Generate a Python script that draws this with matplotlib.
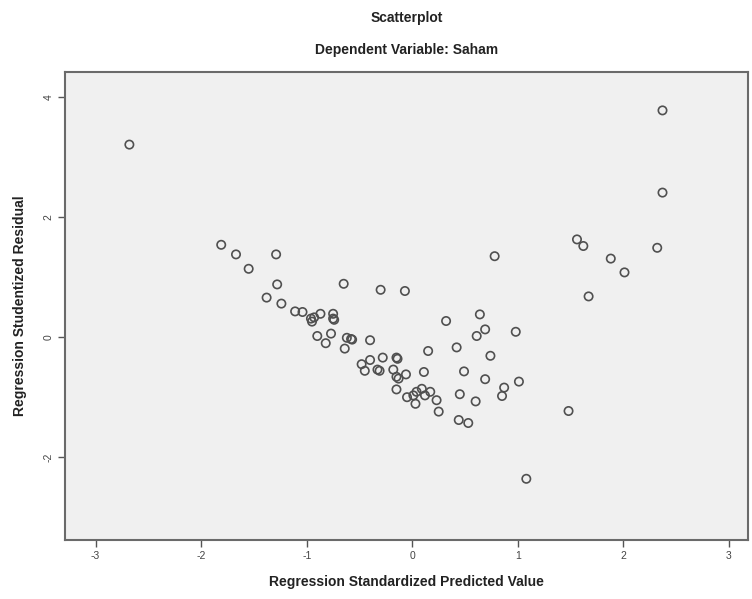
import matplotlib.pyplot as plt

plt.rcParams['font.family'] = ['Liberation Sans', 'DejaVu Sans']

# standardized predicted values (x) and studentized residuals (y)
pred = [-2.68, -1.81, -1.67, -1.29, -1.55, -1.28, -1.38, -1.24, -1.11, -1.04,
        -0.96, -0.93, -0.95, -0.87, -0.75, -0.75, -0.74, -0.65, -0.30, -0.07,
        -0.90, -0.77, -0.82, -0.62, -0.57, -0.58, -0.64, -0.40,
        -0.48, -0.40, -0.45, -0.33, -0.31, -0.28, -0.15, -0.14, -0.18, -0.15,
        -0.13, -0.06, -0.15, 0.15, 0.11, -0.05, 0.01, 0.04, 0.09, 0.12, 0.17,
        0.03, 0.23, 0.25, 0.32, 0.42, 0.49, 0.45, 0.44, 0.53, 0.60, 0.64,
        0.69, 0.61, 0.74, 0.69, 0.98, 0.87, 0.85, 1.01, 1.48, 1.08,
        2.37, 2.37, 1.56, 1.62, 2.32, 1.88, 2.01, 1.67, 0.78]
resid = [3.21, 1.54, 1.38, 1.38, 1.14, 0.88, 0.66, 0.56, 0.43, 0.42,
         0.31, 0.33, 0.26, 0.39, 0.39, 0.31, 0.29, 0.89, 0.79, 0.77,
         0.02, 0.06, -0.10, -0.01, -0.04, -0.03, -0.19, -0.05,
         -0.45, -0.38, -0.56, -0.54, -0.56, -0.34, -0.34, -0.36, -0.54, -0.66,
         -0.69, -0.62, -0.87, -0.23, -0.58, -1.00, -0.97, -0.91, -0.86, -0.97, -0.91,
         -1.11, -1.05, -1.24, 0.27, -0.17, -0.57, -0.95, -1.38, -1.43, -1.07, 0.38,
         0.13, 0.02, -0.31, -0.70, 0.09, -0.84, -0.98, -0.74, -1.23, -2.36,
         3.78, 2.41, 1.63, 1.52, 1.49, 1.31, 1.08, 0.68, 1.35]

xticks = [-3, -2, -1, 0, 1, 2, 3]
yticks = [-2, 0, 2, 4]

fig = plt.figure(figsize=(7.52, 5.99), dpi=100)
ax = fig.add_axes([0.0864, 0.0985, 0.9083, 0.7813])
ax.set_facecolor('#f0f0f0')

ax.scatter(pred, resid, s=36, facecolors='none', edgecolors='#505050', linewidths=1.2, zorder=3)

ax.set_xlim(-3.29, 3.18)
ax.set_ylim(-3.38, 4.42)
ax.set_xticks(xticks)
ax.set_yticks(yticks)
ax.set_xticklabels([str(t) for t in xticks], fontsize=7.5, color='#444444')
ax.set_yticklabels([str(t) for t in yticks], fontsize=7.5, color='#444444', rotation=90, va='center')
ax.tick_params(direction='out', length=5, width=1, color='#555555', pad=3)

for sp in ax.spines.values():
    sp.set_color('#6a6a6a')
    sp.set_linewidth(1.5)

fig.text(0.5405, 0.970, 'Scatterplot', ha='center', va='center', fontsize=10, fontweight='bold', color='#222222')
fig.text(0.5405, 0.916, 'Dependent Variable: Saham', ha='center', va='center', fontsize=10, fontweight='bold', color='#222222')
ax.set_xlabel('Regression Standardized Predicted Value', fontsize=10, fontweight='bold', color='#222222', labelpad=10)
ax.set_ylabel('Regression Studentized Residual', fontsize=10, fontweight='bold', color='#222222', labelpad=12)

fig.savefig('out.png', dpi=100)
